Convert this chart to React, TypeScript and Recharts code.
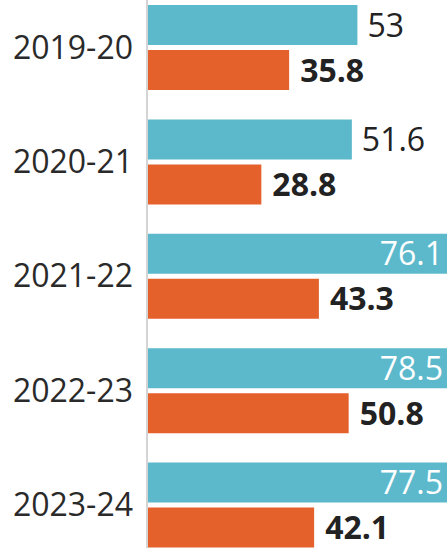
import React from "react";
import { BarChart, Bar, XAxis, YAxis, LabelList } from "recharts";

const years = ["2019-20", "2020-21", "2021-22", "2022-23", "2023-24"];
const blueValues = [53, 51.6, 76.1, 78.5, 77.5];
const orangeValues = [35.8, 28.8, 43.3, 50.8, 42.1];

const data = years.map((year, i) => ({
  year,
  blue: blueValues[i],
  orange: orangeValues[i],
}));

const VIEW_W = 447;
const VIEW_H = 548;
const FONT = "'Open Sans', 'DejaVu Sans', sans-serif";

// blue labels sit outside the bar, or inside in white when the bar runs off the picture
const renderBlueLabel = (props: any) => {
  const { x, y, width, height, value } = props;
  const end = x + width;
  const inside = end + 70 > VIEW_W;
  const tx = inside ? Math.min(end, VIEW_W) - 4 : end + 10;
  return (
    <text
      x={tx}
      y={y + height / 2}
      dy="0.36em"
      textAnchor={inside ? "end" : "start"}
      fill={inside ? "#ffffff" : "#222222"}
      fontSize={32}
      fontFamily={FONT}
      fontWeight={400}
    >
      {value}
    </text>
  );
};

const renderOrangeLabel = (props: any) => {
  const { x, y, width, height, value } = props;
  return (
    <text
      x={x + width + 11}
      y={y + height / 2}
      dy="0.36em"
      textAnchor="start"
      fill="#222222"
      fontSize={32}
      fontFamily={FONT}
      fontWeight={700}
    >
      {value}
    </text>
  );
};

const App = () => {
  return (
    <div
      style={{
        position: "absolute",
        left: 0,
        top: 0,
        width: VIEW_W,
        height: VIEW_H,
        overflow: "hidden",
        background: "#ffffff",
      }}
    >
      <div style={{ position: "absolute", left: 0, top: -10 }}>
        <BarChart
          width={544}
          height={572}
          data={data}
          layout="vertical"
          margin={{ top: 0, right: 0, bottom: 0, left: 0 }}
          barSize={40}
          barGap={5}
        >
          <XAxis type="number" domain={[0, 100]} hide />
          <YAxis
            type="category"
            dataKey="year"
            width={147}
            axisLine={{ stroke: "#d4d4d4", strokeWidth: 2 }}
            tickLine={false}
            tickSize={0}
            tickMargin={14}
            tick={{ fontSize: 32, fill: "#2a2a2a", fontFamily: FONT }}
          />
          <Bar dataKey="blue" fill="#5cb9cc" isAnimationActive={false}>
            <LabelList dataKey="blue" content={renderBlueLabel} />
          </Bar>
          <Bar dataKey="orange" fill="#e4612c" isAnimationActive={false}>
            <LabelList dataKey="orange" content={renderOrangeLabel} />
          </Bar>
        </BarChart>
      </div>
    </div>
  );
};

export default App;
